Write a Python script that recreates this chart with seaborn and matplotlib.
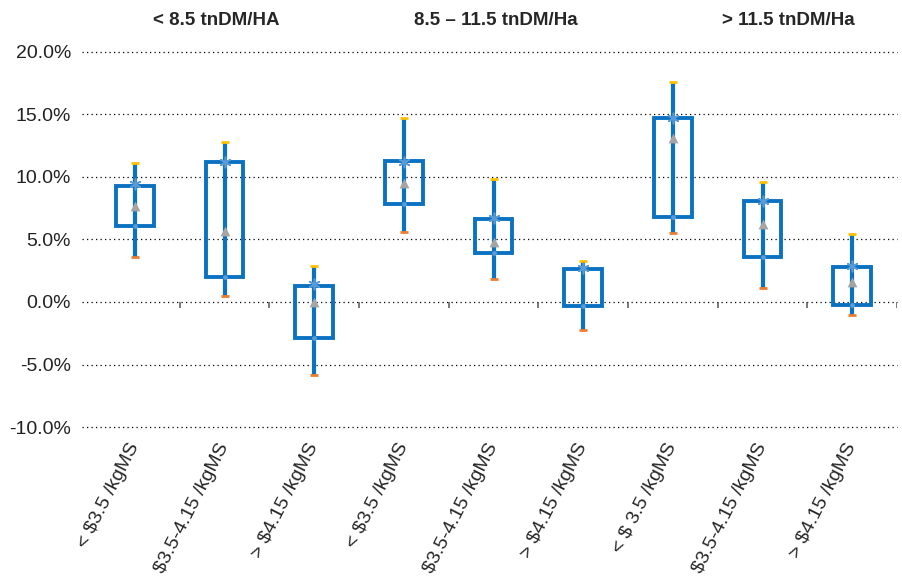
import numpy as np
import pandas as pd
import seaborn as sns
import matplotlib.pyplot as plt
from matplotlib.ticker import FuncFormatter

# categorias (precio de leche) dentro de cada grupo de produccion
categorias = ["< $3.5 /kgMS", "$3.5-4.15 /kgMS", "> $4.15 /kgMS",
              "< $3.5 /kgMS", "$3.5-4.15 /kgMS", "> $4.15 /kgMS",
              "< $ 3.5 /kgMS", "$3.5-4.15 /kgMS", "> $4.15 /kgMS"]
grupos = ["< 8.5 tnDM/HA", "8.5 – 11.5 tnDM/Ha", "> 11.5 tnDM/Ha"]

# valores en %
maximo = [11.1, 12.8, 2.9, 14.7, 9.8, 3.3, 17.6, 9.6, 5.4]
minimo = [3.6, 0.5, -5.8, 5.6, 1.8, -2.2, 5.5, 1.1, -1.0]
caja_sup = [9.3, 11.2, 1.3, 11.3, 6.6, 2.6, 14.7, 8.1, 2.8]
caja_inf = [6.1, 2.0, -2.9, 7.8, 3.9, -0.3, 6.8, 3.6, -0.2]
cierre = [9.4, 11.2, 1.4, 11.2, 6.7, 2.7, 14.7, 8.1, 2.9]
promedio = [7.7, 5.7, 0.0, 9.5, 4.8, np.nan, 13.1, 6.2, 1.6]

df = pd.DataFrame({
    'pos': np.arange(len(categorias)),
    'max': maximo, 'min': minimo,
    'sup': caja_sup, 'inf': caja_inf,
    'cierre': cierre, 'prom': promedio,
})

sns.set_theme(style='white')
plt.rcParams['font.family'] = ['Liberation Sans', 'DejaVu Sans']

azul = '#0B72C1'
fig = plt.figure(figsize=(9.03, 5.82), dpi=100)
ax = fig.add_axes([0.0908, 0.2663, 0.9026, 0.6444])

# lineas min-max
ax.vlines(df['pos'], df['min'], df['max'], color=azul, lw=3, zorder=2)
# cajas
ax.bar(df['pos'], df['sup'] - df['inf'], bottom=df['inf'], width=0.42,
       fill=False, edgecolor=azul, linewidth=2.8, zorder=3)

# marcadores
sns.scatterplot(data=df, x='pos', y='max', marker='_', s=40, color='#FFC000',
                linewidth=2.0, ax=ax, zorder=4)
sns.scatterplot(data=df, x='pos', y='min', marker='_', s=40, color='#ED7D31',
                linewidth=2.0, ax=ax, zorder=4)
sns.scatterplot(data=df, x='pos', y='cierre', marker=(6, 2, 0), s=55,
                color='#5B9BD5', linewidth=1.2, ax=ax, zorder=5)
sns.scatterplot(data=df, x='pos', y='prom', marker='^', s=50, color='#A5A5A5',
                linewidth=0, ax=ax, zorder=5)
sns.scatterplot(data=df, x='pos', y='inf', marker='o', s=12, color='#5B9BD5',
                linewidth=0, ax=ax, zorder=5)

ax.set_xlim(-0.59, 8.5)
ax.set_ylim(-10, 20)
ax.set_yticks(np.arange(-10, 20.1, 5))
ax.yaxis.set_major_formatter(FuncFormatter(lambda v, p: f'{v:.1f}%'))
ax.grid(axis='y', color='black', linestyle=(0, (1, 2.6)), linewidth=0.9)
ax.set_axisbelow(True)
for gl in ax.get_ygridlines():
    gl.set_clip_on(False)
for s in ax.spines.values():
    s.set_visible(False)

# marcas del eje en y=0
bordes = np.arange(0.5, len(categorias), 1)
ax.vlines(bordes, -0.45, 0, color='#555555', lw=1.1, zorder=2)

ax.set_xticks(df['pos'])
ax.set_xticklabels(categorias, rotation=63, ha='right', rotation_mode='anchor',
                   va='center', fontsize=14)
ax.tick_params(axis='x', length=0, pad=12)
ax.tick_params(axis='y', length=0, labelsize=14, pad=8, colors='#222222')
ax.set_xlabel('')
ax.set_ylabel('')

for x, g in zip([0.905, 4.03, 7.29], grupos):
    ax.text(x, 22.55, g, ha='center', va='center', fontsize=13.5,
            fontweight='bold', clip_on=False)

fig.savefig('out.png', dpi=100)
